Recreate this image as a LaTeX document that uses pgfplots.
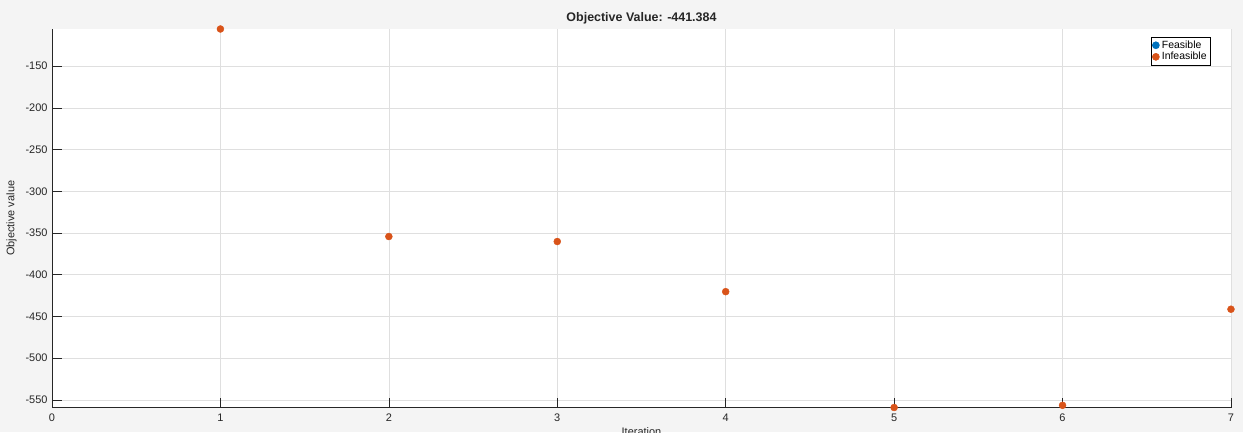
\documentclass[border=0pt]{standalone}
\usepackage{fontspec}
\setmainfont{Liberation Sans}
\usepackage{pgfplots}
\pgfplotsset{compat=1.18}

\definecolor{mblue}{HTML}{0072BD}
\definecolor{morange}{HTML}{D95319}
\definecolor{figbg}{HTML}{F4F4F4}
\definecolor{gridc}{HTML}{DFDFDF}
\definecolor{axc}{HTML}{262626}

\begin{document}
\begin{tikzpicture}[x=1bp,y=1bp]
    \fill[figbg] (0,0) rectangle (1243,432);
    \useasboundingbox (0,0) rectangle (1243,432);
    \clip (0,0) rectangle (1243,432);
    \begin{axis}[
            at={(52bp,24.5bp)},
            anchor=south west,
            scale only axis,
            width=1179bp,
            height=378.5bp,
            xmin=0, xmax=7,
            ymin=-559.2, ymax=-105.4,
            xtick={0,...,7},
            ytick={-550,-500,...,-150},
            axis background/.style={fill=white},
            axis x line*=bottom,
            axis y line*=left,
            axis line style={axc, line width=0.8pt, -},
            tick style={axc, line width=0.6pt},
            tick align=inside,
            major tick length=10bp,
            grid=major,
            major grid style={gridc, line width=0.6pt},
            ticklabel style={font=\fontsize{11}{13}\selectfont, text=axc},
            /pgf/number format/assume math mode=true,
            yticklabel style={xshift=-1bp},
            xticklabel style={yshift=-3bp},
            title={\textbf{Objective Value: -441.384}},
            title style={font=\fontsize{12.5}{14}\selectfont, text=axc, yshift=-5bp},
            xlabel={Iteration},
            ylabel={Objective value},
            label style={font=\fontsize{11}{13}\selectfont, text=axc},
            xlabel style={yshift=1bp},
            ylabel style={yshift=2bp},
            legend style={at={(0.983,0.979)}, anchor=north east,
                    draw=black, fill=white, line width=0.6pt,
                    font=\fontsize{10.5}{12}\selectfont,
                    inner sep=1.5pt, row sep=-1.5pt,
                    nodes={inner xsep=2.5pt}},
            legend cell align=left,
            clip=false,
        ]
        \addlegendimage{only marks, mark=*, mark size=3.5bp, color=mblue}
        \addlegendentry{Feasible}
        \addplot[only marks, mark=*, mark size=3.5bp, color=morange]
        coordinates {(1,-105.4) (2,-354.2) (3,-360.2) (4,-420.3)
                (5,-559.2) (6,-556.6) (7,-441.384)};
        \addlegendentry{Infeasible}
    \end{axis}
\end{tikzpicture}
\end{document}
